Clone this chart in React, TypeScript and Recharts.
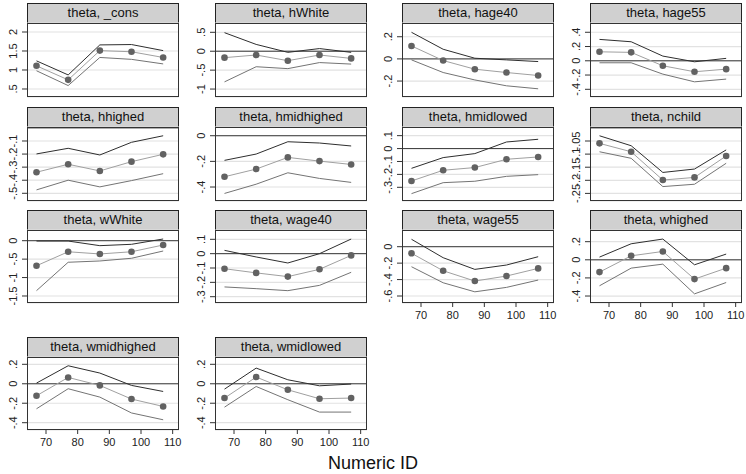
import { LineChart, Line, XAxis, YAxis, CartesianGrid, ReferenceLine } from "recharts";

// numeric ID on the x axis
const xIds = [67, 77, 87, 97, 107];
const xTicks = [70, 80, 90, 100, 110];

const panelNames = [
  "_cons", "hWhite", "hage40", "hage55",
  "hhighed", "hmidhighed", "hmidlowed", "nchild",
  "wWhite", "wage40", "wage55", "whighed",
  "wmidhighed", "wmidlowed",
];

// point estimates of theta
const estimates = [
  [1.11, 0.74, 1.51, 1.48, 1.33],
  [-0.17, -0.1, -0.25, -0.1, -0.19],
  [0.117, -0.015, -0.093, -0.123, -0.15],
  [0.126, 0.118, -0.07, -0.154, -0.117],
  [-0.339, -0.278, -0.329, -0.258, -0.202],
  [-0.32, -0.26, -0.169, -0.198, -0.224],
  [-0.251, -0.168, -0.147, -0.083, -0.065],
  [-0.059, -0.091, -0.199, -0.189, -0.107],
  [-0.68, -0.3, -0.36, -0.3, -0.117],
  [-0.105, -0.134, -0.16, -0.109, -0.012],
  [-0.08, -0.293, -0.418, -0.357, -0.264],
  [-0.136, 0.044, 0.092, -0.213, -0.092],
  [-0.123, 0.065, -0.017, -0.157, -0.233],
  [-0.147, 0.069, -0.062, -0.154, -0.147],
];

// upper bound of the interval
const upperCI = [
  [1.24, 0.87, 1.66, 1.67, 1.51],
  [0.49, 0.18, -0.03, 0.07, -0.03],
  [0.24, 0.087, 0.006, -0.009, -0.024],
  [0.3, 0.267, 0.066, -0.014, 0.034],
  [-0.199, -0.156, -0.207, -0.11, -0.06],
  [-0.192, -0.143, -0.047, -0.057, -0.08],
  [-0.153, -0.07, -0.039, 0.051, 0.072],
  [-0.03, -0.068, -0.17, -0.157, -0.084],
  [-0.01, -0.01, -0.135, -0.098, 0.046],
  [0.023, -0.023, -0.065, 0, 0.102],
  [0.09, -0.134, -0.276, -0.223, -0.122],
  [0.03, 0.177, 0.229, -0.055, 0.063],
  [0.007, 0.185, 0.11, -0.017, -0.079],
  [-0.055, 0.161, 0.041, -0.021, -0.003],
];

// lower bound of the interval
const lowerCI = [
  [0.98, 0.59, 1.33, 1.28, 1.16],
  [-0.81, -0.41, -0.46, -0.3, -0.34],
  [-0.009, -0.123, -0.19, -0.243, -0.27],
  [-0.028, -0.028, -0.187, -0.295, -0.257],
  [-0.474, -0.4, -0.451, -0.403, -0.35],
  [-0.45, -0.378, -0.289, -0.333, -0.364],
  [-0.349, -0.264, -0.253, -0.215, -0.202],
  [-0.091, -0.116, -0.224, -0.215, -0.135],
  [-1.355, -0.585, -0.55, -0.477, -0.28],
  [-0.232, -0.244, -0.258, -0.221, -0.13],
  [-0.244, -0.439, -0.549, -0.495, -0.406],
  [-0.287, -0.092, -0.048, -0.376, -0.251],
  [-0.257, -0.051, -0.137, -0.3, -0.37],
  [-0.24, -0.028, -0.164, -0.291, -0.291],
];

const yTicks = [
  [0.5, 1, 1.5, 2],
  [-1, -0.5, 0, 0.5],
  [-0.2, 0, 0.2],
  [-0.4, -0.2, 0, 0.2, 0.4],
  [-0.5, -0.4, -0.3, -0.2, -0.1],
  [-0.4, -0.2, 0],
  [-0.3, -0.2, -0.1, 0, 0.1],
  [-0.25, -0.2, -0.15, -0.1, -0.05],
  [-1.5, -1, -0.5, 0],
  [-0.3, -0.2, -0.1, 0, 0.1],
  [-0.6, -0.4, -0.2, 0],
  [-0.4, -0.2, 0, 0.2],
  [-0.4, -0.2, 0, 0.2],
  [-0.4, -0.2, 0, 0.2],
];

const yDomains = [
  [0.289, 2.237],
  [-1.21, 0.746],
  [-0.344, 0.324],
  [-0.508, 0.53],
  [-0.559, 0.007],
  [-0.509, 0.068],
  [-0.406, 0.167],
  [-0.279, 0.0035],
  [-1.69, 0.29],
  [-0.344, 0.165],
  [-0.685, 0.203],
  [-0.477, 0.329],
  [-0.475, 0.275],
  [-0.475, 0.275],
];

const FONT = '"Liberation Sans", Arial, Helvetica, sans-serif';
const PLOT_W = 152;
const HEADER_H = 20;
const AXIS_W = 26;
const PAD = 4;
const X_AXIS_H = 24;
const colLeft = [27, 215, 402, 590];
const rowPlotTop = [23, 127, 230, 357];
const rowPlotH = [74, 74, 73, 73];
const bottomPanels = [10, 11, 12, 13];

// stata style: .5 instead of 0.5
function stataLabel(v: number) {
  const s = String(Math.round(v * 1000) / 1000);
  return s.replace(/^(-?)0\./, "$1.");
}

const YTick = (props: any) => {
  const { x, y, payload } = props;
  return (
    <text
      x={x}
      y={y}
      transform={`rotate(-90 ${x} ${y})`}
      textAnchor="middle"
      fontSize={11}
      fill="#222"
      fontFamily={FONT}
    >
      {stataLabel(payload.value)}
    </text>
  );
};

function Panel({ p }: { p: number }) {
  const col = p % 4;
  const row = Math.floor(p / 4);
  const left = colLeft[col];
  const top = rowPlotTop[row];
  const h = rowPlotH[row];
  const showX = bottomPanels.includes(p);
  const data = xIds.map((x, i) => ({
    x,
    est: estimates[p][i],
    hi: upperCI[p][i],
    lo: lowerCI[p][i],
  }));

  return (
    <>
      <div
        style={{
          position: "absolute",
          left,
          top: top - HEADER_H,
          width: PLOT_W,
          height: HEADER_H + 1,
          boxSizing: "border-box",
          border: "1px solid #222",
          background: "#d0d0d0",
          fontFamily: FONT,
          fontSize: 13,
          lineHeight: `${HEADER_H - 2}px`,
          textAlign: "center",
          color: "#111",
        }}
      >
        theta, {panelNames[p]}
      </div>
      <div style={{ position: "absolute", left: left - AXIS_W, top: top - PAD }}>
        <LineChart
          width={AXIS_W + PLOT_W + PAD}
          height={h + PAD + (showX ? X_AXIS_H : PAD)}
          data={data}
          margin={{ top: PAD, right: PAD, bottom: showX ? 0 : PAD, left: 0 }}
        >
          <CartesianGrid vertical={false} stroke="#e2e2e2" strokeWidth={1.2} />
          <XAxis
            dataKey="x"
            type="number"
            domain={[64, 112]}
            ticks={xTicks}
            hide={!showX}
            height={X_AXIS_H}
            axisLine={false}
            tickSize={4}
            tickMargin={4}
            tickLine={{ stroke: "#333" }}
            tick={{ fontSize: 11, fill: "#222", fontFamily: FONT }}
            interval={0}
          />
          <YAxis
            type="number"
            width={AXIS_W}
            domain={yDomains[p]}
            ticks={yTicks[p]}
            allowDataOverflow
            axisLine={false}
            tickSize={5}
            tickMargin={5}
            tickLine={{ stroke: "#333" }}
            tick={<YTick />}
            interval={0}
          />
          <ReferenceLine y={0} stroke="#3a3a3a" strokeWidth={1} />
          <Line type="linear" dataKey="hi" stroke="#2e2e2e" strokeWidth={1} dot={false} isAnimationActive={false} />
          <Line type="linear" dataKey="lo" stroke="#747474" strokeWidth={1} dot={false} isAnimationActive={false} />
          <Line
            type="linear"
            dataKey="est"
            stroke="#a0a0a0"
            strokeWidth={1}
            dot={{ r: 3.3, fill: "#626262", stroke: "none" }}
            isAnimationActive={false}
          />
        </LineChart>
      </div>
      <div
        style={{
          position: "absolute",
          left,
          top,
          width: PLOT_W,
          height: h,
          boxSizing: "border-box",
          border: "1px solid #333",
          pointerEvents: "none",
        }}
      />
    </>
  );
}

export default function App() {
  return (
    <div
      style={{
        position: "absolute",
        left: 0,
        top: 0,
        width: 746,
        height: 474,
        background: "#fff",
        overflow: "hidden",
      }}
    >
      {panelNames.map((_, p) => (
        <Panel key={p} p={p} />
      ))}
      <div
        style={{
          position: "absolute",
          left: 0,
          top: 452,
          width: 746,
          textAlign: "center",
          fontFamily: FONT,
          fontSize: 18,
          lineHeight: "22px",
          color: "#111",
        }}
      >
        Numeric ID
      </div>
    </div>
  );
}
